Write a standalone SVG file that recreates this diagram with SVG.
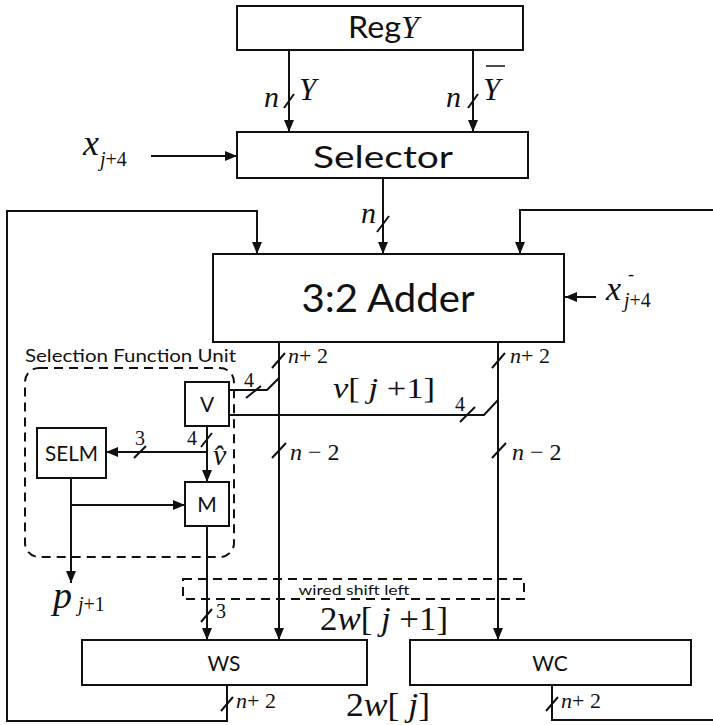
<svg xmlns="http://www.w3.org/2000/svg" width="713" height="725" viewBox="0 0 713 725">
<style>
.box{fill:#fff;stroke:#111;stroke-width:2}
.ln{fill:none;stroke:#111;stroke-width:2}
.sl{fill:none;stroke:#111;stroke-width:2}
.dash{fill:none;stroke:#111;stroke-width:2;stroke-dasharray:9 6}
.sans{font-family:Lato,"Open Sans","Liberation Sans",sans-serif;fill:#111}
.it{font-family:"Liberation Serif","Times New Roman",serif;font-style:italic;fill:#111}
.rm{font-family:"Liberation Serif","Times New Roman",serif;fill:#111}
</style>
<defs>
<marker id="ah" markerWidth="12" markerHeight="10" refX="12" refY="5" orient="auto" markerUnits="userSpaceOnUse"><path d="M0,0 L12,5 L0,10 z" fill="#111"/></marker>
</defs>

<g id="connectors">
<path class="ln" d="M289,50 V132" marker-end="url(#ah)"/>
<path class="ln" d="M473,50 V132" marker-end="url(#ah)"/>
<path class="ln" d="M151,156 H237" marker-end="url(#ah)"/>
<path class="ln" d="M383,178 V254" marker-end="url(#ah)"/>
<path class="ln" d="M227,685 V721 H7 V211 H257 V254" marker-end="url(#ah)"/>
<path class="ln" d="M552,685 V720 H713"/>
<path class="ln" d="M713,210 H520 V254" marker-end="url(#ah)"/>
<path class="ln" d="M596,297 H565" marker-end="url(#ah)"/>
<path class="ln" d="M279,342 V640" marker-end="url(#ah)"/>
<path class="ln" d="M498,342 V640" marker-end="url(#ah)"/>
<path class="ln" d="M279,378 L267,390 H229"/>
<path class="ln" d="M229,415 H484 L498,400"/>
<path class="ln" d="M207,426 V482" marker-end="url(#ah)"/>
<path class="ln" d="M207,452 H106" marker-end="url(#ah)"/>
<path class="ln" d="M71,478 V583" marker-end="url(#ah)"/>
<path class="ln" d="M71,505 H185" marker-end="url(#ah)"/>
<path class="ln" d="M207,526 V640" marker-end="url(#ah)"/>
<path class="sl" d="M284,108 L294,94 M468,108 L478,94 M377,232 L389,216 M272,368 L285,353 M492,368 L505,353 M246,398 L261,386 M460,422 L475,407 M272,458 L286,443 M492,458 L506,443 M201,447 L212,433 M134,458 L146,446 M201,622 L212,609 M221,711 L233,697 M546,711 L558,697"/>
</g>

<g id="sfu">
<rect class="dash" x="25" y="368" width="209" height="189" rx="14"/>
<text class="sans" x="25" y="362" font-size="17" textLength="211" lengthAdjust="spacingAndGlyphs">Selection Function Unit</text>
</g>

<g id="wsl">
<rect class="dash" x="183" y="579" width="341" height="20"/>
<text class="sans" x="354" y="595" font-size="14" text-anchor="middle" textLength="111" lengthAdjust="spacingAndGlyphs">wired shift left</text>
</g>

<g id="regy">
<rect class="box" x="237" y="6" width="286" height="44"/>
<text x="348" y="38" font-size="30"><tspan class="sans" textLength="53" lengthAdjust="spacingAndGlyphs">Reg</tspan><tspan class="it" font-size="32">Y</tspan></text>
</g>

<g id="selector">
<rect class="box" x="237" y="132" width="291" height="46"/>
<text class="sans" x="383" y="168" font-size="31" text-anchor="middle" textLength="140" lengthAdjust="spacingAndGlyphs">Selector</text>
</g>

<g id="adder">
<rect class="box" x="213" y="254" width="351" height="88"/>
<text class="sans" x="388" y="312" font-size="39" text-anchor="middle" textLength="173" lengthAdjust="spacingAndGlyphs">3:2 Adder</text>
</g>

<g id="v">
<rect class="box" x="185" y="382" width="44" height="44"/>
<text class="sans" x="207" y="412" font-size="21" text-anchor="middle">V</text>
</g>
<g id="m">
<rect class="box" x="185" y="482" width="44" height="44"/>
<text class="sans" x="207" y="512" font-size="21" text-anchor="middle">M</text>
</g>
<g id="selm">
<rect class="box" x="37" y="428" width="69" height="50"/>
<text class="sans" x="71.5" y="461" font-size="21" text-anchor="middle" textLength="53" lengthAdjust="spacingAndGlyphs">SELM</text>
</g>

<g id="ws">
<rect class="box" x="82" y="640" width="285" height="45"/>
<text class="sans" x="224" y="671" font-size="21" text-anchor="middle">WS</text>
</g>
<g id="wc">
<rect class="box" x="410" y="640" width="281" height="45"/>
<text class="sans" x="550" y="671" font-size="21" text-anchor="middle">WC</text>
</g>

<g id="labels">
<text class="it" x="264" y="107" font-size="30">n</text>
<text class="it" x="299" y="100" font-size="31">Y</text>
<text class="it" x="446" y="107" font-size="30">n</text>
<text class="it" x="483" y="100" font-size="31">Y</text>
<line x1="486" y1="66" x2="505" y2="66" stroke="#111" stroke-width="1.5"/>
<text class="it" x="361" y="223" font-size="30">n</text>
<text x="83" y="155"><tspan class="it" font-size="36">x</tspan><tspan class="it" font-size="20" x="100" y="166">j</tspan><tspan class="rm" font-size="20">+4</tspan></text>
<text x="606" y="300"><tspan class="it" font-size="34">x</tspan><tspan class="rm" font-size="18" x="628" y="280">-</tspan><tspan class="it" font-size="20" x="624" y="307">j</tspan><tspan class="rm" font-size="20">+4</tspan></text>
<text x="288" y="363" font-size="22"><tspan class="it">n</tspan><tspan class="rm">+ 2</tspan></text>
<text x="510" y="363" font-size="22"><tspan class="it">n</tspan><tspan class="rm">+ 2</tspan></text>
<text class="rm" x="244" y="387" font-size="20">4</text>
<text class="rm" x="455" y="411" font-size="20">4</text>
<text x="333" y="398" font-size="30" textLength="102" lengthAdjust="spacingAndGlyphs"><tspan class="it">v</tspan><tspan class="rm">[ </tspan><tspan class="it">j</tspan><tspan class="rm"> +1]</tspan></text>
<text x="290" y="460" font-size="24"><tspan class="it">n</tspan><tspan class="rm"> − 2</tspan></text>
<text x="512" y="460" font-size="24"><tspan class="it">n</tspan><tspan class="rm"> − 2</tspan></text>
<text class="rm" x="187" y="445" font-size="20">4</text>
<text class="rm" x="135" y="445" font-size="20">3</text>
<text class="it" x="213" y="465" font-size="30">v̂</text>
<text x="53" y="608"><tspan class="it" font-size="38">p</tspan><tspan class="it" font-size="20" x="78" y="611">j</tspan><tspan class="rm" font-size="20">+1</tspan></text>
<text class="rm" x="216" y="618" font-size="20">3</text>
<text x="320" y="630" font-size="34" textLength="128" lengthAdjust="spacingAndGlyphs"><tspan class="rm">2</tspan><tspan class="it">w</tspan><tspan class="rm">[ </tspan><tspan class="it">j</tspan><tspan class="rm"> +1]</tspan></text>
<text x="236" y="708" font-size="22"><tspan class="it">n</tspan><tspan class="rm">+ 2</tspan></text>
<text x="561" y="708" font-size="22"><tspan class="it">n</tspan><tspan class="rm">+ 2</tspan></text>
<text x="346" y="716" font-size="34" textLength="84" lengthAdjust="spacingAndGlyphs"><tspan class="rm">2</tspan><tspan class="it">w</tspan><tspan class="rm">[ </tspan><tspan class="it">j</tspan><tspan class="rm">]</tspan></text>
</g>
</svg>
